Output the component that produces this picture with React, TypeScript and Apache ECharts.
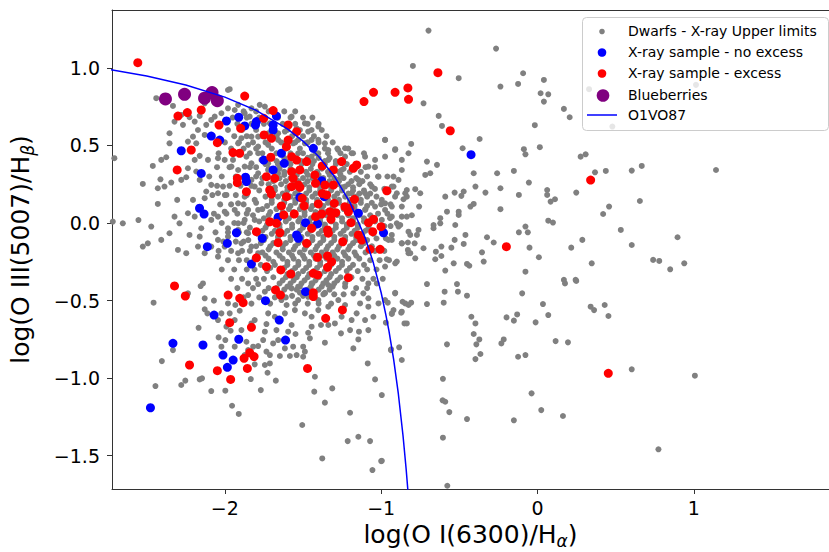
import React, { useEffect, useRef } from 'react';
import * as echarts from 'echarts';

const xTicks = [-2, -1, 0, 1];
const yTicks = [-1.5, -1.0, -0.5, 0.0, 0.5, 1.0];
const legendLabels = ['Dwarfs - X-ray Upper limits', 'X-ray sample - no excess', 'X-ray sample - excess', 'Blueberries', 'O1VO87'];

// Dwarfs - X-ray upper limits (sparse halo)
const grayOuter: number[][] = [
  [-0.797,1.013],[-0.504,0.934],[-0.237,0.880],[-0.124,0.897],[-0.092,0.966],[0.041,0.923],[0.020,0.837],[0.069,0.830],[0.041,0.783],[0.169,0.736],[0.206,0.682],[0.330,0.863],[0.479,0.622],[1.014,0.891],
  [-0.729,0.772],[-0.632,0.691],[-0.611,0.626],[-0.479,0.482],[-0.370,0.542],[-0.087,0.476],[-0.077,0.443],[0.015,0.489],[-0.017,0.631],[0.276,0.428],[0.308,0.443],[0.368,0.327],[0.437,0.336],[0.603,0.338],[0.667,0.368],[1.142,0.342],
  [-0.975,0.536],[-0.910,0.476],[-0.808,0.510],[-0.975,0.428],[-0.707,0.396],[-0.643,0.375],[-0.718,0.310],[-0.686,0.321],[-0.921,0.299],[-0.921,0.235],[-0.953,0.203],[-0.900,0.192],[-0.836,0.213],[-0.782,0.218],[-0.750,0.192],[-0.836,0.170],[-0.857,0.153],[-0.757,0.106],[-0.804,0.050],[-0.868,0.041],[-0.932,0.106],[-0.975,0.127],[-0.943,0.031],[-0.900,-0.002],[-0.878,-0.013],
  [-0.408,0.321],[-0.258,0.321],[-0.151,0.336],[-0.055,0.261],[-0.237,0.224],[-0.397,0.235],[-0.333,0.196],[-0.472,0.203],[-0.487,0.175],[-0.530,0.196],[-0.590,0.170],[-0.429,0.106],[-0.408,0.123],[-0.504,0.073],[-0.504,0.052],[-0.579,0.073],[-0.622,0.031],[-0.622,-0.002],[-0.665,-0.013],[-0.665,-0.034],[-0.526,-0.013],[-0.461,-0.077],[-0.530,-0.109],[-0.551,-0.159],[-0.615,-0.152],[-0.650,-0.185],[-0.654,-0.234],[-0.615,-0.213],[-0.590,-0.307],[-0.536,-0.260],[-0.451,-0.264],[-0.472,-0.135],[-0.355,-0.189],[-0.344,-0.249],[-0.323,-0.092],[-0.280,-0.126],[-0.119,-0.060],[-0.077,-0.023],[-0.062,-0.060],[-0.051,-0.159],[0.009,-0.221],[-0.077,-0.314],[0.069,0.015],[0.099,0.003],[0.062,0.213],[0.062,0.181],[0.084,0.138],[0.112,0.153],[0.248,0.196],[0.287,-0.109],[0.216,-0.159],[0.347,-0.260],[0.420,0.058],[0.458,0.106],[0.533,-0.045],[0.603,-0.142],[0.655,0.142],[0.740,-0.238],[0.779,-0.245],[0.849,-0.299],[0.939,-0.260],[0.896,-0.092],[-0.237,0.089],[-0.119,0.181],
  [-0.825,-0.056],[-0.814,-0.077],[-0.761,-0.045],[-0.771,-0.077],[-0.786,-0.131],[-0.829,-0.126],[-0.868,-0.131],[-0.829,-0.174],[-0.814,-0.195],[-0.782,-0.228],[-0.729,-0.163],[-0.910,-0.260],[-0.900,-0.249],[-0.964,-0.234],[-0.975,-0.281],[-0.953,-0.109],[-0.932,-0.077],[0.169,-0.367],[0.244,-0.367],
  [-0.697,1.241],[-0.265,1.125],
  [-0.436,-0.276],[-0.707,-0.394],[-0.594,-0.443],[-0.515,-0.394],[-0.509,-0.443],[-0.451,-0.469],[-0.600,-0.514],[-0.707,-0.523],[-0.910,-0.450],[-0.863,-0.508],[-0.825,-0.529],[-0.808,-0.514],[-0.958,-0.514],[-0.975,-0.497],[-0.921,-0.562],[-0.932,-0.587],[-0.872,-0.579],[-0.970,-0.643],[-0.851,-0.648],[-0.098,-0.454],[0.176,-0.390],[0.248,-0.374],[0.035,-0.523],[0.340,-0.540],[0.362,-0.562],[0.430,-0.529],[0.454,-0.600],[-0.423,-0.605],[-0.397,-0.648],[-0.198,-0.609],[-0.151,-0.630],[-0.130,-0.590],[-0.012,-0.641],[0.069,-0.594],[-0.408,-0.716],[-0.372,-0.751],[-0.391,-0.783],[-0.579,-0.783],[-0.936,-0.815],[-0.885,-0.802],[-0.397,-0.878],[-0.365,-0.845],[-0.231,-0.777],[-0.216,-0.751],[-0.124,-0.863],[-0.077,-0.852],[0.116,-0.762],[0.195,-0.770],[0.603,-0.944],[1.007,-0.985],[-0.605,-1.005],[-0.607,-1.144],[-0.590,-1.153],[-0.564,-1.220],[-0.451,-1.265],[-0.038,-1.099],[0.024,-1.207],[0.163,-1.245],[-0.151,-1.273],[-0.605,-1.385],[0.774,-1.460],[-0.577,-1.695],[-0.996,-1.110],[-0.996,-1.534],
  [-2.456,-0.514],[-2.403,-0.891],[-2.444,-1.052],[-2.279,-1.045],[-2.253,-1.017],[-2.161,-1.009],[-2.146,-1.002],[-2.087,-1.084],[-1.997,-1.082],[-1.954,-1.179],[-1.911,-1.232],[-1.770,-1.078],[-1.834,-1.007],[-1.727,-0.966],[-1.674,-1.017],[-1.744,-0.916],[-1.712,-0.906],[-1.809,-0.912],[-2.168,-0.676],[-2.040,-0.738],[-1.997,-0.755],[-1.963,-0.695],[-1.862,-0.766],[-1.905,-0.566],[-1.851,-0.465],[-1.933,-0.529],[-1.980,-0.519],[-2.070,-0.501],[-2.129,-0.557],[-2.112,-0.583],[-2.129,-0.486],[-2.236,-0.454],[-2.155,-0.407],[-2.140,-0.390],[-1.851,-0.390],[-1.787,-0.394],[-1.744,-0.443],[-1.830,-0.648],[-1.809,-0.626],[-1.744,-0.701],[-1.734,-0.652],[-1.670,-0.691],[-1.595,-0.701],[-1.548,-0.716],[-1.573,-0.658],[-1.467,-0.708],[-1.445,-0.669],[-1.385,-0.658],[-1.338,-0.658],[-1.296,-0.648],[-1.257,-0.712],[-1.199,-0.691],[-1.142,-0.701],[-1.082,-0.691],[-1.114,-0.454],[-1.082,-0.486],[-1.017,-0.519],[-0.911,-0.454],[-0.846,-0.519],[-0.868,-0.572],[-0.836,-0.648],[-0.932,-0.583],[-1.050,-0.605],[-1.157,-0.583],[-1.360,-0.772],[-1.456,-0.744],[-1.499,-0.798],[-1.488,-0.830],[-1.541,-0.852],[-1.584,-0.858],[-1.648,-0.858],[-1.616,-0.809],[-1.563,-0.798],[-1.499,-0.863],[-1.424,-0.992],[-1.428,-1.088],[-1.360,-1.159],[-1.313,-1.067],[-1.178,-0.809],[-1.146,-0.751],[-1.086,-0.906],[-1.039,-1.009],[-1.199,-1.224],[-1.146,-1.379],[-1.214,-1.407],[-1.071,-1.407],[-1.505,-1.303],[-1.377,-1.519],[-1.056,-1.594],[-1.000,-1.536],[-0.938,-0.820],[-0.868,-0.884],
  [-2.332,-0.820],[-2.022,-0.798],[-1.937,-0.798],[-1.873,-0.852],[-1.851,-0.820],[-1.819,-0.798],[-1.787,-0.794],[-1.734,-0.830],[-1.712,-0.852],[-1.755,-0.755],[-1.691,-0.777],[-1.659,-0.755],[-1.616,-0.755],[-1.894,-0.691],[-1.937,-0.626],[-1.990,-0.669],[-2.044,-0.626],[-2.022,-0.583],[-1.969,-0.583],[-1.723,-0.583],[-1.680,-0.605],[-1.616,-0.583],[-1.552,-0.562],[-1.488,-0.583],[-1.445,-0.605],[-1.402,-0.562],[-1.338,-0.540],[-1.274,-0.497],[-1.231,-0.529],[-1.253,-0.605],[-1.189,-0.626],[-1.103,-0.626],[-1.531,-0.497],[-1.467,-0.476],[-1.402,-0.497],[-1.360,-0.454],[-1.638,-0.497],[-1.605,-0.529],[-1.573,-0.422],[-1.531,-0.411],[-1.445,-0.390],[-1.338,-0.400],[-1.231,-0.411],[-1.178,-0.454],[-1.135,-0.519],[-1.082,-0.540],[-1.028,-0.390],[-1.082,-0.390],
  [-2.439,0.805],[-2.354,0.579],[-2.268,0.633],[-2.322,0.654],[-2.354,0.514],[-2.407,0.407],[-2.461,0.368],[-2.375,0.424],[-2.412,0.282],[-2.386,0.235],[-2.343,0.261],[-2.429,0.224],[-2.525,0.252],[-2.429,0.123],[-2.707,0.418],[-2.653,-0.002],[-2.717,0.009],[-2.493,-0.131],[-2.290,-0.002],[-2.226,-0.077],[-2.300,-0.174],[-2.247,-0.195],[-2.151,-0.034],[-2.161,-0.088],[-2.087,0.020],[-2.044,0.041],[-2.001,0.073],[-1.990,0.181],[-2.044,0.192],[-2.119,0.203],[-2.129,0.160],[-2.204,0.149],[-2.087,0.246],[-2.012,0.235],[-2.001,0.407],[-2.044,0.418],[-2.108,0.407],[-2.161,0.433],[-2.193,0.407],[-2.236,0.353],[-2.247,0.295],[-2.183,0.332],[-2.161,0.278],[-2.279,0.278],[-2.305,0.149],[-2.204,0.557],[-2.183,0.514],[-2.236,0.525],[-2.172,0.600],[-2.129,0.568],[-2.119,0.633],[-2.193,0.654],[-2.087,0.665],[-2.065,0.686],[-2.022,0.708],[-1.980,0.740],[-1.937,0.729],[-1.980,0.858],[-2.129,0.772],[-2.161,0.691],[-2.226,0.682],[-2.279,0.697],
  [-1.894,0.547],[-1.851,0.504],[-1.830,0.557],[-1.787,0.557],[-1.915,0.514],[-1.862,0.428],[-1.873,0.364],[-1.915,0.342],[-1.830,0.385],[-1.787,0.321],[-1.958,0.364],[-1.948,0.407],[-1.787,0.450],[-1.787,0.493],[-1.777,0.762],[-1.744,0.751],[-1.830,0.740],[-1.841,0.686],[-1.873,0.708],[-1.915,0.762],
  [-1.445,0.600],[-1.402,0.536],[-1.360,0.514],[-1.338,0.471],[-1.274,0.471],[-1.231,0.482],[-1.231,0.428],[-1.189,0.450],[-1.103,0.428],[-1.082,0.364],[-1.039,0.407],[-0.975,0.536],[-0.911,0.471],[-0.868,0.407],[-0.825,0.450],[-0.868,0.342],[-0.889,0.278],[-0.932,0.235],[-0.911,0.170],[-0.846,0.192],[-0.868,0.106],[-0.836,0.041],[-0.889,-0.023],[-0.932,-0.109],[-0.868,-0.131],[-0.825,-0.195],[-1.017,0.299],[-1.060,0.235],[-0.996,0.149],[-0.975,0.084],[-1.039,0.106],[-1.103,0.192],[-1.146,0.278],[-0.996,0.020],[-0.932,0.041],[-1.103,0.084],[-1.189,0.192],[-1.231,0.235],[-1.274,0.278],[-1.328,0.321],[-1.338,0.407],[-1.445,0.428],[-1.402,0.450],[-1.253,0.342],[-1.531,0.450],[-1.563,0.514],[-1.488,0.514],[-1.659,0.536],[-1.723,0.504],[-1.723,0.579],[-1.659,0.579],[-1.616,0.590],[-1.573,0.686],[-1.541,0.611],[-1.467,0.590],[-1.445,0.536],[-1.488,0.643],[-1.531,0.536],[-1.402,0.622],[-1.787,0.665],[-1.712,0.643],[-1.616,0.514],
  [-1.723,0.385],[-1.766,0.407],[-1.659,0.385],[-1.659,0.321],[-1.766,0.256],[-1.723,0.342],[-1.830,0.278],[-1.809,0.235],[-1.809,0.149],[-1.873,0.170],[-1.915,0.127],[-1.937,0.084],[-1.851,0.084],[-1.787,0.084],[-1.809,0.020],[-1.873,0.020],[-1.915,-0.002],[-1.980,-0.034],[-1.915,-0.045],[-1.851,-0.066],[-1.980,-0.088],[-1.894,-0.131],[-1.830,-0.152],[-1.787,-0.195],[-1.915,-0.195],[-2.001,-0.152],[-2.044,-0.109],[-2.087,-0.152],[-2.129,-0.195],[-2.172,-0.152],[-2.044,-0.217],[-2.236,0.063],[-2.193,0.041],[-2.322,0.041],[-2.354,-0.066],[-2.407,-0.109],[-2.471,-0.023],[-2.525,-0.152],
  [-1.969,0.863],[-2.332,0.755],[-2.553,0.019],
];

// Dense core and its surroundings: rows of [log OIII/Hb, list of log OI/Ha]
const coreRows: [number, number[]][] = [
  [0.42, [-1.70,-1.62,-1.55,-1.47,-1.40,-1.33]],
  [0.38, [-1.74,-1.66,-1.58,-1.51,-1.44,-1.36,-1.29,-1.22]],
  [0.33, [-1.69,-1.62,-1.55,-1.48,-1.41,-1.34,-1.27,-1.20,-1.13]],
  [0.29, [-1.76,-1.65,-1.58,-1.50,-1.44,-1.37,-1.30,-1.24,-1.16]],
  [0.25, [-1.72,-1.64,-1.56,-1.49,-1.42,-1.35,-1.28,-1.21,-1.14,-1.07]],
  [0.21, [-1.78,-1.68,-1.60,-1.53,-1.46,-1.39,-1.32,-1.25,-1.18,-1.11]],
  [0.17, [-1.74,-1.66,-1.58,-1.51,-1.44,-1.37,-1.30,-1.23,-1.16,-1.09,-1.03]],
  [0.13, [-1.80,-1.70,-1.62,-1.55,-1.48,-1.41,-1.34,-1.27,-1.20,-1.13,-1.06]],
  [0.09, [-1.76,-1.67,-1.59,-1.52,-1.45,-1.38,-1.31,-1.24,-1.17,-1.10]],
  [0.05, [-1.82,-1.72,-1.64,-1.56,-1.49,-1.42,-1.35,-1.28,-1.21,-1.14,-1.07]],
  [0.01, [-1.78,-1.69,-1.61,-1.53,-1.46,-1.39,-1.32,-1.25,-1.18,-1.11,-1.04]],
  [-0.03, [-1.84,-1.74,-1.65,-1.57,-1.50,-1.43,-1.36,-1.29,-1.22,-1.15,-1.08]],
  [-0.07, [-1.79,-1.70,-1.62,-1.54,-1.47,-1.40,-1.33,-1.26,-1.19,-1.12,-1.05]],
  [-0.11, [-1.85,-1.75,-1.66,-1.58,-1.51,-1.44,-1.37,-1.30,-1.23,-1.16,-1.09]],
  [-0.15, [-1.80,-1.71,-1.63,-1.55,-1.48,-1.41,-1.34,-1.27,-1.20,-1.13,-1.06]],
  [-0.19, [-1.76,-1.67,-1.59,-1.52,-1.45,-1.38,-1.31,-1.24,-1.17,-1.10]],
  [-0.23, [-1.81,-1.72,-1.63,-1.56,-1.49,-1.42,-1.35,-1.28,-1.21,-1.14]],
  [-0.27, [-1.77,-1.68,-1.60,-1.53,-1.46,-1.39,-1.32,-1.25,-1.18,-1.11]],
  [-0.31, [-1.73,-1.64,-1.57,-1.50,-1.43,-1.36,-1.29,-1.22,-1.15]],
  [-0.35, [-1.69,-1.61,-1.54,-1.47,-1.40,-1.33,-1.26,-1.19]],
  [-0.39, [-1.65,-1.58,-1.51,-1.44,-1.37,-1.30,-1.23]],
  [-0.43, [-1.62,-1.54,-1.47,-1.40,-1.33]],
  [-0.47, [-1.57,-1.50,-1.43]],
  [0.31, [-1.62,-1.54,-1.47,-1.40,-1.33,-1.26]],
  [0.23, [-1.68,-1.60,-1.53,-1.46,-1.39,-1.32,-1.25,-1.18]],
  [0.15, [-1.70,-1.62,-1.55,-1.48,-1.41,-1.34,-1.27,-1.20,-1.13]],
  [0.07, [-1.71,-1.63,-1.56,-1.49,-1.42,-1.35,-1.28,-1.21,-1.14]],
  [-0.01, [-1.73,-1.65,-1.57,-1.50,-1.43,-1.36,-1.29,-1.22,-1.15]],
  [-0.09, [-1.74,-1.66,-1.58,-1.51,-1.44,-1.37,-1.30,-1.23,-1.16]],
  [-0.17, [-1.72,-1.63,-1.56,-1.49,-1.42,-1.35,-1.28,-1.21]],
  [-0.25, [-1.69,-1.60,-1.53,-1.46,-1.39,-1.32,-1.25]],
  [-0.33, [-1.60,-1.53,-1.46,-1.39,-1.32]],
  [0.40, [-1.67,-1.59,-1.51,-1.43,-1.36,-1.29]],
  [0.35, [-1.72,-1.65,-1.58,-1.52,-1.45,-1.38,-1.31,-1.24,-1.17]],
  [0.27, [-1.69,-1.61,-1.53,-1.47,-1.40,-1.33,-1.27,-1.19,-1.12]],
  [0.19, [-1.71,-1.63,-1.55,-1.48,-1.42,-1.35,-1.28,-1.21,-1.14,-1.07]],
  [0.11, [-1.73,-1.65,-1.58,-1.51,-1.44,-1.37,-1.31,-1.24,-1.17,-1.09]],
  [0.03, [-1.75,-1.67,-1.59,-1.52,-1.45,-1.39,-1.32,-1.25,-1.18,-1.11]],
  [-0.05, [-1.76,-1.68,-1.60,-1.52,-1.45,-1.38,-1.31,-1.24,-1.17,-1.10]],
  [-0.13, [-1.77,-1.69,-1.61,-1.53,-1.46,-1.39,-1.32,-1.25,-1.18,-1.11]],
  [-0.21, [-1.74,-1.65,-1.57,-1.50,-1.43,-1.37,-1.30,-1.23,-1.16]],
  [-0.29, [-1.71,-1.62,-1.55,-1.48,-1.41,-1.34,-1.27,-1.20]],
  [-0.37, [-1.63,-1.56,-1.49,-1.42,-1.35,-1.28]],
  [-0.41, [-1.60,-1.52,-1.45,-1.38,-1.31]],
  [-0.45, [-1.66,-1.52,-1.45,-1.36]],
  [0.72, [-1.88,-1.80,-1.72,-1.62,-1.55]],
  [0.68, [-1.95,-1.86,-1.78,-1.66,-1.58,-1.50,-1.44]],
  [0.64, [-1.92,-1.83,-1.75,-1.63,-1.55,-1.47,-1.40]],
  [0.60, [-1.98,-1.89,-1.80,-1.70,-1.60,-1.52,-1.38]],
  [0.56, [-1.94,-1.86,-1.76,-1.67,-1.57,-1.50,-1.43,-1.35]],
  [0.52, [-2.00,-1.91,-1.82,-1.74,-1.64,-1.55,-1.47,-1.40,-1.31]],
  [0.48, [-1.96,-1.88,-1.80,-1.70,-1.61,-1.52,-1.44,-1.36,-1.28,-1.21]],
  [0.45, [-2.04,-1.93,-1.84,-1.76,-1.67,-1.58,-1.50,-1.42,-1.34,-1.26,-1.18,-1.11]],
  [0.36, [-2.05,-1.97,-1.84,-1.80]],
  [0.30, [-2.10,-2.02,-1.93,-1.86,-1.80]],
  [0.24, [-2.05,-1.97,-1.90,-1.83]],
  [0.18, [-2.08,-2.00,-1.93,-1.86]],
  [0.12, [-2.03,-1.96,-1.88]],
  [0.06, [-2.07,-1.99,-1.92,-1.86]],
  [0.00, [-2.02,-1.94,-1.88]],
  [-0.06, [-2.06,-1.98,-1.91,-1.86]],
  [-0.12, [-2.01,-1.93,-1.88]],
  [-0.18, [-2.04,-1.96,-1.89,-1.84]],
  [-0.24, [-1.98,-1.91,-1.86]],
  [-0.30, [-2.02,-1.94,-1.86,-1.81]],
  [-0.36, [-1.96,-1.89,-1.80,-1.75]],
  [-0.42, [-1.92,-1.82,-1.72,-1.67]],
  [-0.48, [-1.88,-1.78,-1.68,-1.61]],
  [-0.52, [-1.83,-1.71,-1.55,-1.47,-1.40,-1.32]],
  [-0.46, [-1.37,-1.30,-1.24]],
  [0.36, [-1.10,-1.04]],
  [0.30, [-1.09,-1.02,-0.96]],
  [0.22, [-1.04,-0.98]],
  [0.12, [-1.00,-0.94]],
  [0.06, [-1.02,-0.96]],
  [-0.02, [-0.98,-0.94]],
  [-0.10, [-1.03,-0.97]],
  [-0.18, [-1.04,-0.98]],
  [-0.24, [-1.07,-1.01,-0.95]],
  [-0.30, [-1.09,-1.03]],
  [-0.36, [-1.12,-1.05,-0.99]],
  [-0.42, [-1.16,-1.09]],
];

const blueNoExcess: number[][] = [
  [-1.990,0.658],[-1.911,0.682],[-1.873,0.626],[-1.798,0.654],[-1.804,0.632],[-1.691,0.632],[-1.691,0.600],[-1.670,0.690],[-2.087,0.561],[-2.033,0.535],[-2.279,0.466],[-2.151,0.320],[-1.868,0.295],[-1.862,0.267],[-1.751,0.406],[-1.638,0.450],[-1.620,0.385],[-1.691,0.342],[-1.434,0.482],[-1.381,0.273],[-1.364,0.170],[-1.520,0.166],
  [-2.162,0.095],[-2.133,0.058],[-1.926,-0.063],[-1.984,-0.131],[-2.112,-0.153],[-1.761,-0.099],[-1.830,-0.265],[-1.740,-0.501],[-2.069,-0.594],[-1.652,-0.626],[-1.612,-0.755],[-1.911,-0.750],[-2.140,-0.787],[-2.012,-0.852],[-1.947,-0.884],[-1.984,-0.931],[-1.484,-0.443],[-1.541,-0.077],[-1.530,-0.099],[-1.484,0.002],[-1.407,-0.006],[-1.146,0.063],[-0.985,-0.063],[-1.659,0.037],
  [-2.476,-1.192],[-2.332,-0.776],[-0.425,0.441],
];

const redExcess: number[][] = [
  [-2.557,1.034],[-1.873,0.819],[-2.300,0.690],[-2.240,0.712],[-2.151,0.729],[-2.037,0.632],[-1.899,0.611],[-1.691,0.725],[-1.751,0.675],[-2.215,0.471],[-2.305,0.342],[-2.048,0.518],[-1.948,0.454],[-1.905,0.450],[-1.920,0.288],[-1.920,0.260],[-1.862,0.202],[-1.749,0.568],[-1.702,0.546],[-1.595,0.632],[-1.541,0.589],[-1.595,0.535],[-1.606,0.492],[-1.706,0.424],[-1.573,0.428],[-1.541,0.406],[-1.477,0.396],[-1.734,0.299],[-1.681,0.288],[-1.573,0.331],[-1.520,0.342],[-1.563,0.288],[-1.530,0.245],[-1.573,0.234],[-1.424,0.310],[-1.420,0.256],[-1.377,0.368],[-1.306,0.342],[-1.253,0.396],[-1.178,0.353],[-1.157,0.374],[-1.306,0.245],[-1.360,0.245],[-1.377,0.191],[-1.606,0.170],[-1.713,0.213],[-1.492,0.110],[-1.638,0.110],[-1.402,0.123],[-1.300,0.127],[-1.232,0.105],[-1.200,0.095],[-1.171,0.153],[-0.964,0.208],[-1.556,0.058],[-1.623,0.052],[-1.381,0.058],[-1.321,0.024],[-1.420,0.041],[-1.713,0.008],[-1.670,-0.002],[-1.193,0.002],[-1.081,0.002],[-1.049,0.024],[-1.001,-0.024],[-1.054,-0.056],[-1.445,-0.034],[-1.343,-0.045],[-1.338,-0.066],[-1.648,-0.063],[-1.798,-0.056],[-1.146,-0.077],[-1.124,-0.110],[-1.246,-0.121],[-1.477,-0.131],[-1.659,-0.127],[-1.007,-0.170],[-1.071,-0.170],
  [-1.349,0.181],[-1.520,0.230],[-1.505,0.159],[-1.328,0.073],[-1.291,0.066],[-1.210,0.073],[-1.702,0.187],
  [-2.253,-0.471],[-1.979,-0.465],[-1.905,-0.486],[-1.883,-0.514],[-1.969,-0.643],[-1.830,-0.673],[-1.877,-0.873],[-1.841,-0.837],[-1.813,-0.862],[-1.856,-0.938],[-2.048,-0.953],[-2.226,-0.916],[-1.963,-1.009],[-1.471,-0.938],[-1.355,-0.615],[-1.248,-0.561],[-1.210,-0.353],[-1.434,-0.450],[-1.434,-0.475],[-1.676,-0.432],[-1.644,-0.465],[-1.578,-0.329],[-1.642,-0.303],[-1.734,-0.282],[-1.798,-0.225],[-1.434,-0.325],[-1.407,-0.335],[-1.407,-0.221],[-1.343,-0.213],[-1.317,-0.250],[-1.343,-0.286],[-2.322,-0.406],
  [-0.637,0.970],[-0.911,0.843],[-0.829,0.871],[-0.825,0.798],[-0.558,0.595],[-1.049,0.843],[-1.110,0.783],[-0.199,-0.153],[0.340,0.277],[0.453,-0.970],
];

const blueberries: number[][] = [
  [-2.380,0.800],[-2.258,0.830],[-2.130,0.805],[-2.082,0.841],[-2.048,0.789],
];

// O1VO87 demarcation curve
const curveO1VO87: number[][] = [
  [-2.75,0.992],[-2.5,0.948],[-2.25,0.890],[-2.0,0.812],[-1.8,0.727],[-1.6,0.607],[-1.5,0.528],[-1.4,0.429],[-1.3,0.302],[-1.2,0.133],[-1.1,-0.101],[-1.05,-0.257],[-1.0,-0.450],[-0.97,-0.593],[-0.95,-0.698],[-0.92,-0.882],[-0.89,-1.103],[-0.86,-1.374],[-0.84,-1.590],[-0.825,-1.776],
];

const FONT = 'DejaVu Sans';

export default function App() {
  const ref = useRef<HTMLDivElement>(null);
  useEffect(() => {
    const chart = echarts.init(ref.current!, null, { renderer: 'svg' });
    const gray = [
      ...grayOuter,
      ...coreRows.flatMap(([y, xs]) => xs.map((x) => [x, y])),
    ];
    const fmt = (v: number, d: number) => (d ? v.toFixed(d) : String(v)).replace('-', '\u2212');
    const rich = {
      m: { fontSize: 25, fontFamily: FONT, color: '#000', lineHeight: 31 },
      s: { fontSize: 17, fontFamily: FONT, color: '#000', fontStyle: 'italic', verticalAlign: 'bottom' },
    };
    const axisCol = '#333';
    const rows = [31, 52, 73, 94.5, 115];
    const graphic: any[] = [
      { type: 'rect', z: 100, shape: { x: 582.5, y: 17.5, width: 246, height: 113, r: 4 }, style: { fill: 'rgba(255,255,255,0.8)', stroke: '#cccccc', lineWidth: 1 } },
      { type: 'circle', z: 101, shape: { cx: 602, cy: rows[0] + 0.5, r: 2.8 }, style: { fill: '#808080' } },
      { type: 'circle', z: 101, shape: { cx: 602, cy: rows[1] + 0.5, r: 4.3 }, style: { fill: '#0000ff' } },
      { type: 'circle', z: 101, shape: { cx: 602, cy: rows[2] + 0.5, r: 4.3 }, style: { fill: '#ff0000' } },
      { type: 'circle', z: 101, shape: { cx: 603, cy: rows[3] + 1, r: 6.3 }, style: { fill: '#800080' } },
      { type: 'line', z: 101, shape: { x1: 587, y1: rows[4], x2: 617, y2: rows[4] }, style: { stroke: '#0000ff', lineWidth: 1.5 } },
      ...legendLabels.map((t, i) => ({
        type: 'text', z: 101, x: 628, y: rows[i],
        style: { text: t, fontSize: 14, fontFamily: FONT, fill: '#000', align: 'left', verticalAlign: 'middle' },
      })),
    ];
    chart.setOption({
      animation: false,
      backgroundColor: '#ffffff',
      grid: { left: 112, right: 0, top: 10, bottom: 63, containLabel: false, outerBoundsMode: 'none' },
      xAxis: [
        {
          type: 'value', min: -2.722, max: 1.865,
          axisLine: { show: true, onZero: false, lineStyle: { color: axisCol, width: 1 } },
          axisTick: { show: true, inside: false, length: 5, customValues: xTicks, lineStyle: { color: axisCol } },
          axisLabel: { customValues: xTicks, formatter: (v: number) => fmt(v, 0), fontSize: 19, fontFamily: FONT, color: '#000', margin: 9 },
          splitLine: { show: false },
          name: '{m|log(O I(6300)/H}{s|α}{m|)}',
          nameLocation: 'middle', nameGap: 28,
          nameTextStyle: { rich },
        },
        {
          type: 'value', position: 'top', min: -2.722, max: 1.865,
          axisLine: { show: true, onZero: false, lineStyle: { color: axisCol, width: 1 } },
          axisTick: { show: false }, axisLabel: { show: false }, splitLine: { show: false },
        },
      ],
      yAxis: {
        type: 'value', min: -1.716, max: 1.374,
        axisLine: { show: true, onZero: false, lineStyle: { color: axisCol, width: 1 } },
        axisTick: { show: true, inside: false, length: 5, customValues: yTicks, lineStyle: { color: axisCol } },
        axisLabel: { customValues: yTicks, formatter: (v: number) => fmt(v, 1), fontSize: 19, fontFamily: FONT, color: '#000', margin: 12 },
        splitLine: { show: false },
        name: '{m|log(O III(5007)/H}{s|β}{m|)}',
        nameLocation: 'middle', nameGap: 76, nameRotate: 90,
        nameTextStyle: { rich },
      },
      graphic,
      series: [
        { name: legendLabels[0], type: 'scatter', data: gray, symbolSize: 6, itemStyle: { color: '#808080', opacity: 1 }, z: 2 },
        { name: legendLabels[1], type: 'scatter', data: blueNoExcess, symbolSize: 9, itemStyle: { color: '#0000ff', opacity: 1 }, z: 3 },
        { name: legendLabels[2], type: 'scatter', data: redExcess, symbolSize: 9, itemStyle: { color: '#ff0000', opacity: 1 }, z: 4 },
        { name: legendLabels[3], type: 'scatter', data: blueberries, symbolSize: 13, itemStyle: { color: '#800080', opacity: 1 }, z: 5 },
        { name: legendLabels[4], type: 'line', data: curveO1VO87, showSymbol: false, symbol: 'none', smooth: false, lineStyle: { color: '#0000ff', width: 1.5 }, z: 6, clip: true },
      ],
    });
    return () => chart.dispose();
  }, []);
  return <div ref={ref} style={{ position: 'fixed', left: 0, top: 0, width: 829, height: 552 }} />;
}
